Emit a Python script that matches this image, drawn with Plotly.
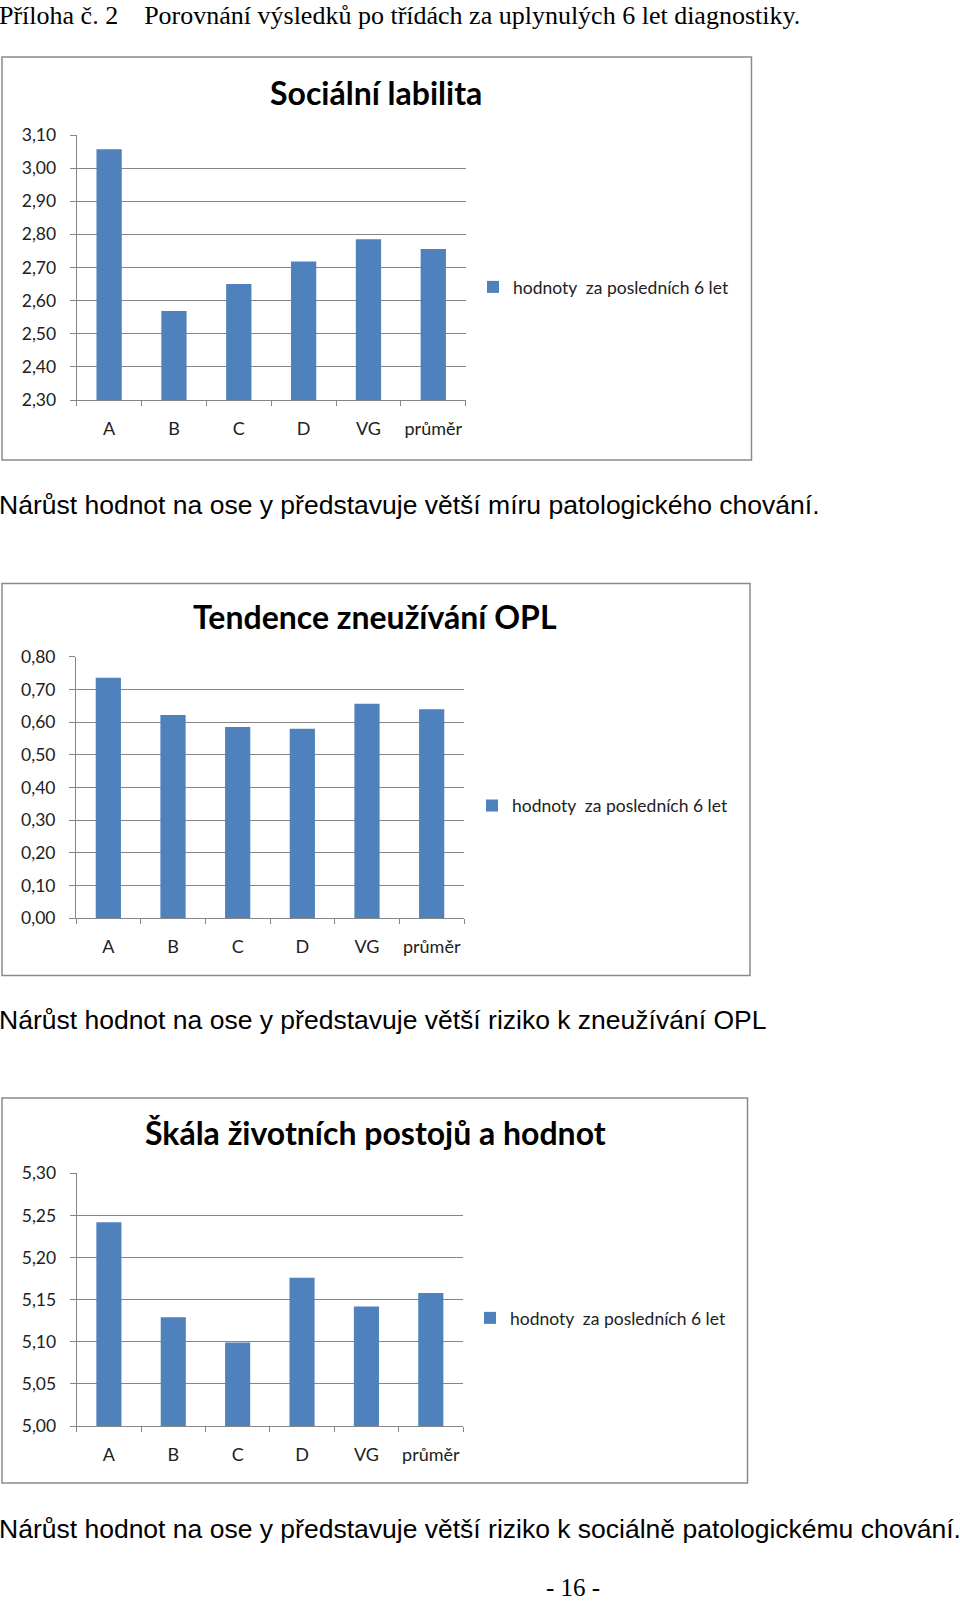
import plotly.graph_objects as go

W, H = 960, 1603

categories = ["A", "B", "C", "D", "VG", "průměr"]
social_lability = [3.057, 2.569, 2.650, 2.718, 2.785, 2.756]
opl_tendency = [0.736, 0.622, 0.585, 0.580, 0.656, 0.639]
life_attitudes = [5.242, 5.129, 5.099, 5.176, 5.142, 5.158]

titles = ["Sociální labilita", "Tendence zneužívání OPL", "Škála životních postojů a hodnot"]
series_name = "hodnoty  za posledních 6 let"
header = "Příloha č. 2    Porovnání výsledků po třídách za uplynulých 6 let diagnostiky."
captions = [
    "Nárůst hodnot na ose y představuje větší míru patologického chování.",
    "Nárůst hodnot na ose y představuje větší riziko k zneužívání OPL",
    "Nárůst hodnot na ose y představuje větší riziko k sociálně patologickému chování.",
]
page_number = "- 16 -"

BAR = "#4F81BD"
GRID = "#868686"
FONT = "Lato, 'Open Sans', sans-serif"
SERIF = "'Liberation Serif', 'Times New Roman', serif"
SANS = "'Liberation Sans', Arial, sans-serif"


def px(x):
    return x / W


def py(y):
    return 1 - y / H


# layout per chart (pixel geometry)
charts = [
    dict(vals=social_lability, rng=[2.30, 3.10], dtick=0.1,
         box=(2, 57, 751.5, 460), plot=(76.7, 135, 465.7, 400),
         title_xy=(376, 93), legend_xy=(513, 287)),
    dict(vals=opl_tendency, rng=[0.0, 0.80], dtick=0.1,
         box=(2, 583.5, 750, 975.5), plot=(76, 656.7, 464, 918.3),
         title_xy=(375, 616), legend_xy=(512, 805.5)),
    dict(vals=life_attitudes, rng=[5.00, 5.30], dtick=0.05,
         box=(2, 1098, 747.5, 1483), plot=(76.7, 1173.3, 463, 1426),
         title_xy=(375, 1132), legend_xy=(510, 1318)),
]

fig = go.Figure()
layout = dict(
    width=W, height=H, margin=dict(l=0, r=0, t=0, b=0, pad=0, autoexpand=False),
    paper_bgcolor="white", plot_bgcolor="white",
    separators=",.", bargap=0.61,
    shapes=[], annotations=[],
)

for i, c in enumerate(charts):
    n = "" if i == 0 else str(i + 1)
    leg = "legend" + n
    fig.add_trace(go.Bar(
        x=categories, y=c["vals"], name=series_name,
        marker=dict(color=BAR, line=dict(width=0)),
        xaxis="x" + n, yaxis="y" + n, legend=leg, showlegend=True,
    ))
    x0, y0, x1, y1 = c["plot"]
    layout["xaxis" + n] = dict(
        domain=[px(x0), px(x1)], anchor="y" + n, automargin=False,
        showline=True, linecolor=GRID, linewidth=1, tickangle=0,
        ticks="outside", tickson="boundaries", ticklen=5, tickcolor=GRID,
        showgrid=False, tickfont=dict(family=FONT, size=18, color="#222"),
        ticklabelstandoff=12, fixedrange=True,
    )
    layout["yaxis" + n] = dict(
        domain=[py(y1), py(y0)], anchor="x" + n, automargin=False,
        range=c["rng"], dtick=c["dtick"], tick0=0, tickformat=".2f",
        showline=True, linecolor=GRID, linewidth=1,
        ticks="outside", ticklen=6, tickcolor=GRID,
        showgrid=True, gridcolor=GRID, gridwidth=1, zeroline=False,
        tickfont=dict(family=FONT, size=17.5, color="#222"),
        ticklabelstandoff=10, fixedrange=True,
    )
    lx, ly = c["legend_xy"]
    layout[leg] = dict(
        x=px(lx - 40), y=py(ly), xanchor="left", yanchor="middle",
        bgcolor="rgba(0,0,0,0)", borderwidth=0,
        font=dict(family=FONT, size=17.5, color="#222"),
        itemclick=False, itemdoubleclick=False,
    )
    bx0, by0, bx1, by1 = c["box"]
    layout["shapes"].append(dict(
        type="rect", xref="paper", yref="paper",
        x0=px(bx0), y0=py(by1), x1=px(bx1), y1=py(by0),
        line=dict(color="#8A8A8A", width=1.5), fillcolor="rgba(0,0,0,0)",
        layer="below",
    ))
    tx, ty = c["title_xy"]
    layout["annotations"].append(dict(
        text="<b>" + titles[i] + "</b>", xref="paper", yref="paper",
        x=px(tx), y=py(ty), xanchor="center", yanchor="middle",
        showarrow=False, font=dict(family=FONT, size=32, color="black"),
    ))

# page texts
layout["annotations"].append(dict(
    text=header, xref="paper", yref="paper", x=px(-2), y=py(15),
    xanchor="left", yanchor="middle", showarrow=False, borderpad=0,
    font=dict(family=SERIF, size=26, color="black"),
))
cap_y = [505, 1020, 1529]
for cap, yy in zip(captions, cap_y):
    layout["annotations"].append(dict(
        text=cap, xref="paper", yref="paper", x=px(-2), y=py(yy),
        xanchor="left", yanchor="middle", showarrow=False, borderpad=0,
        font=dict(family=SANS, size=26.5, color="black"),
    ))
layout["annotations"].append(dict(
    text=page_number, xref="paper", yref="paper", x=px(573), y=py(1587),
    xanchor="center", yanchor="middle", showarrow=False, borderpad=0,
    font=dict(family=SERIF, size=25, color="black"),
))

fig.update_layout(**layout)
fig.write_html(
    "out.html",
    config={"displayModeBar": False},
    post_script="document.body.style.margin='0';document.body.style.padding='0';",
)
